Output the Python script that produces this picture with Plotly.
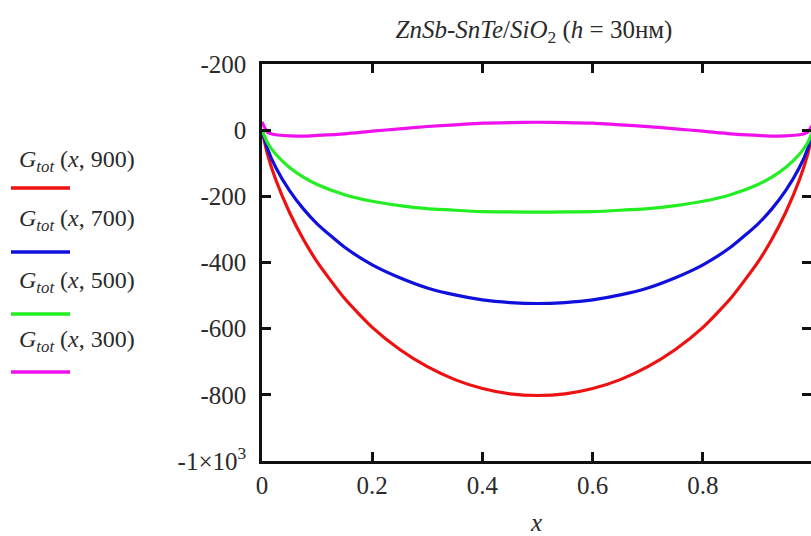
import plotly.graph_objects as go

# composition axis
x_vals = [0, 0.01, 0.025, 0.05, 0.075, 0.1, 0.15, 0.2, 0.25, 0.3, 0.35, 0.4, 0.45, 0.5,
          0.55, 0.6, 0.65, 0.7, 0.75, 0.8, 0.85, 0.9, 0.925, 0.95, 0.975, 0.99, 1]

g_900 = [0, -73, -150, -249, -330, -398, -509, -596, -663, -715, -754, -781, -797, -802,
         -797, -781, -754, -715, -663, -596, -509, -398, -330, -249, -150, -73, 0]
g_700 = [0, -56, -113, -183, -238, -283, -354, -407, -446, -477, -498, -513, -521, -524,
         -521, -513, -498, -477, -446, -407, -354, -283, -238, -183, -113, -56, 0]
g_500 = [0, -38, -73, -113, -142, -164, -195, -215, -228, -237, -242, -246, -247, -248,
         -247, -246, -242, -237, -228, -215, -195, -164, -142, -113, -73, -38, 0]
g_300 = [25, -6, -14, -17, -18, -16, -11, -3, 4, 11, 16, 21, 23, 24,
         23, 21, 16, 11, 4, -3, -11, -16, -18, -17, -14, -6, 20]

series_names = ["900", "700", "500", "300"]
series_values = [g_900, g_700, g_500, g_300]
series_colors = ["#ee1111", "#1010dd", "#22ee22", "#ee11ee"]

y_tick_vals = [200, 0, -200, -400, -600, -800, -1000]
y_tick_text = ["-200", "0", "-200", "-400", "-600", "-800", "-1×10<sup>3</sup>"]
x_tick_vals = [0, 0.2, 0.4, 0.6, 0.8]
x_tick_text = ["0", "0.2", "0.4", "0.6", "0.8"]

FONT = "Liberation Serif, Times New Roman, Times, serif"
TXT = "#2a2a2a"

fig = go.Figure()
for name, vals, col in zip(series_names, series_values, series_colors):
    fig.add_trace(go.Scatter(x=x_vals, y=vals, mode="lines", name=name,
                             line=dict(color=col, width=3.2, shape="spline", smoothing=0.6),
                             showlegend=False))

# legend drawn on the left: label text above a line swatch (pixel positions)
legend_text_y = [161, 220, 282, 341]
legend_line_y = [188, 252, 314, 372]
W, H = 811, 536
ML, MR, MT, MB = 262, 0, 64, 75
pw = W - ML - MR
ph = H - MT - MB


def px_x(p):
    return (p - ML) / pw


def px_y(p):
    return (H - p - MB) / ph


for name, col, ty, ly in zip(series_names, series_colors, legend_text_y, legend_line_y):
    fig.add_annotation(x=px_x(17), y=px_y(ty), xref="paper", yref="paper",
                       text=f"<i>G</i><sub><i>tot</i></sub> (<i>x</i>, {name})",
                       showarrow=False, xanchor="left", yanchor="middle",
                       font=dict(family=FONT, size=24, color=TXT))
    fig.add_shape(type="line", xref="paper", yref="paper",
                  x0=px_x(11), x1=px_x(70), y0=px_y(ly), y1=px_y(ly),
                  line=dict(color=col, width=3.5))

axis_common = dict(showgrid=False, zeroline=False, showline=True, linecolor="#111111",
                   linewidth=2.5, ticks="inside", ticklen=9, tickwidth=2.5,
                   tickcolor="#111111", mirror="ticks", automargin=False,
                   tickfont=dict(family=FONT, size=25, color=TXT))

fig.update_xaxes(range=[0, 0.996], tickvals=x_tick_vals, ticktext=x_tick_text,
                 title=dict(text="<i>x</i>", font=dict(family=FONT, size=25, color=TXT),
                            standoff=31),
                 **axis_common)
fig.update_yaxes(range=[-1000, 200], tickvals=y_tick_vals, ticktext=y_tick_text,
                 ticklabelstandoff=8, **axis_common)

fig.update_layout(
    width=W, height=H,
    margin=dict(l=ML, r=MR, t=MT, b=MB),
    paper_bgcolor="white", plot_bgcolor="white",
    title=dict(text="<i>ZnSb-SnTe</i>/<i>SiO</i><sub>2</sub> (<i>h</i> = 30нм)",
               x=534 / W, xanchor="center", y=1 - 29 / H, yanchor="middle",
               font=dict(family=FONT, size=25, color=TXT)),
)

fig.write_html("out.html", config={"displayModeBar": False},
               post_script="document.body.style.margin='0';document.body.style.overflow='hidden';")
